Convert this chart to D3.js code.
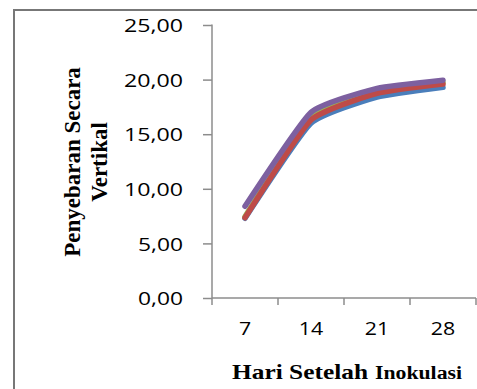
<!DOCTYPE html>
<html>
  <head>
    <meta charset="utf-8">
    <title>Penyebaran Secara Vertikal</title>
    <script src="https://d3js.org/d3.v7.min.js"></script>
    <style>
      body { margin: 0; background: #fff; }
    </style>
  </head>
  <body>
    <script>
      // data
      const days = ["7", "14", "21", "28"];
      const seriesBlue = [7.3, 16.0, 18.4, 19.3];
      const seriesGreen = [7.45, 16.6, 18.9, 19.75];
      const seriesRed = [7.35, 16.3, 18.75, 19.6];
      const seriesPurple = [8.4, 17.0, 19.2, 19.95];
      const yTicks = [0, 5, 10, 15, 20, 25];

      const width = 477;
      const height = 389;
      const plotLeft = 212, plotRight = 476, plotTop = 25, plotBottom = 298;

      const svg = d3.select("body")
        .append("svg")
          .style("display", "block")
          .attr("width", width)
          .attr("height", height);

      // outer frame, cut off at right and bottom
      svg.append("rect")
        .attr("x", 14)
        .attr("y", 10)
        .attr("width", width)
        .attr("height", height)
        .attr("fill", "none")
        .attr("stroke", "#777")
        .attr("stroke-width", 2);

      const xScale = d3.scaleBand()
        .domain(days)
        .range([plotLeft, plotRight]);

      const yScale = d3.scaleLinear()
        .domain([0, 25])
        .range([plotBottom, plotTop]);

      const fmt = d => d3.format(".2f")(d).replace(".", ",");

      const yAxis = d3.axisLeft(yScale)
        .tickValues(yTicks)
        .tickFormat(fmt)
        .tickSize(9)
        .tickPadding(20);

      const xAxis = d3.axisBottom(xScale)
        .tickSize(0)
        .tickPadding(24);

      const gy = svg.append("g")
        .attr("transform", "translate(" + plotLeft + ",0)")
        .call(yAxis);

      const gx = svg.append("g")
        .attr("transform", "translate(0," + plotBottom + ")")
        .call(xAxis);

      // category boundary ticks like excel
      gx.selectAll(".bound")
        .data(d3.range(days.length + 1))
        .enter().append("line")
          .attr("x1", i => plotLeft + i * xScale.bandwidth())
          .attr("x2", i => plotLeft + i * xScale.bandwidth())
          .attr("y1", 0)
          .attr("y2", 7)
          .attr("stroke", "#8c8c8c")
          .attr("stroke-width", 1.5);

      [gx, gy].forEach(g => {
        g.select(".domain").attr("stroke", "#8c8c8c").attr("stroke-width", 1.5);
        g.selectAll(".tick line").attr("stroke", "#8c8c8c").attr("stroke-width", 1.5);
        g.selectAll("text")
          .attr("fill", "#000")
          .style("font-family", "'Open Sans', Calibri, sans-serif")
          .style("font-size", "19px");
      });
      gy.select(".domain").attr("d", "M0," + (plotTop - 0.5) + "V" + plotBottom);
      gx.select(".domain").attr("d", "M" + plotLeft + ",0H" + plotRight);
      gy.selectAll(".tick text")
        .attr("dy", "0.35em")
        .attr("textLength", d => fmt(d).length === 5 ? 59 : 45)
        .attr("lengthAdjust", "spacingAndGlyphs");
      gx.selectAll(".tick text")
        .attr("dy", "0.71em")
        .attr("textLength", d => d.length * 12.2)
        .attr("lengthAdjust", "spacingAndGlyphs");

      const line = d3.line()
        .x((d, i) => xScale(days[i]) + xScale.bandwidth() / 2)
        .y(d => yScale(d))
        .curve(d3.curveCardinal.tension(0.55));

      const series = [
        { values: seriesBlue, color: "#4a7ebb" },
        { values: seriesGreen, color: "#98b954" },
        { values: seriesRed, color: "#be4b48" },
        { values: seriesPurple, color: "#7d60a0" }
      ];

      series.forEach(s => {
        svg.append("path")
          .attr("d", line(s.values))
          .attr("fill", "none")
          .attr("stroke", s.color)
          .attr("stroke-width", 5.5)
          .attr("stroke-linecap", "round")
          .attr("stroke-linejoin", "round");
      });

      // axis titles
      const ytitle = svg.append("text")
        .attr("transform", "translate(80,162) rotate(-90)")
        .attr("text-anchor", "middle")
        .style("font-family", "'Liberation Serif', 'Times New Roman', serif")
        .style("font-weight", "bold")
        .style("font-size", "23px");
      ytitle.append("tspan").attr("x", 0).attr("dy", 0).text("Penyebaran Secara");
      ytitle.append("tspan").attr("x", 0).attr("dy", 27).text("Vertikal");

      const xtitle = svg.append("text")
        .attr("x", 232)
        .attr("y", 379)
        .style("font-family", "'Liberation Serif', 'Times New Roman', serif")
        .style("font-weight", "bold");
      xtitle.append("tspan")
        .style("font-size", "21px")
        .attr("textLength", 136)
        .attr("lengthAdjust", "spacingAndGlyphs")
        .text("Hari Setelah");
      xtitle.append("tspan")
        .attr("x", 375)
        .style("font-size", "18px")
        .attr("textLength", 87)
        .attr("lengthAdjust", "spacingAndGlyphs")
        .text("Inokulasi");
    </script>
  </body>
</html>
